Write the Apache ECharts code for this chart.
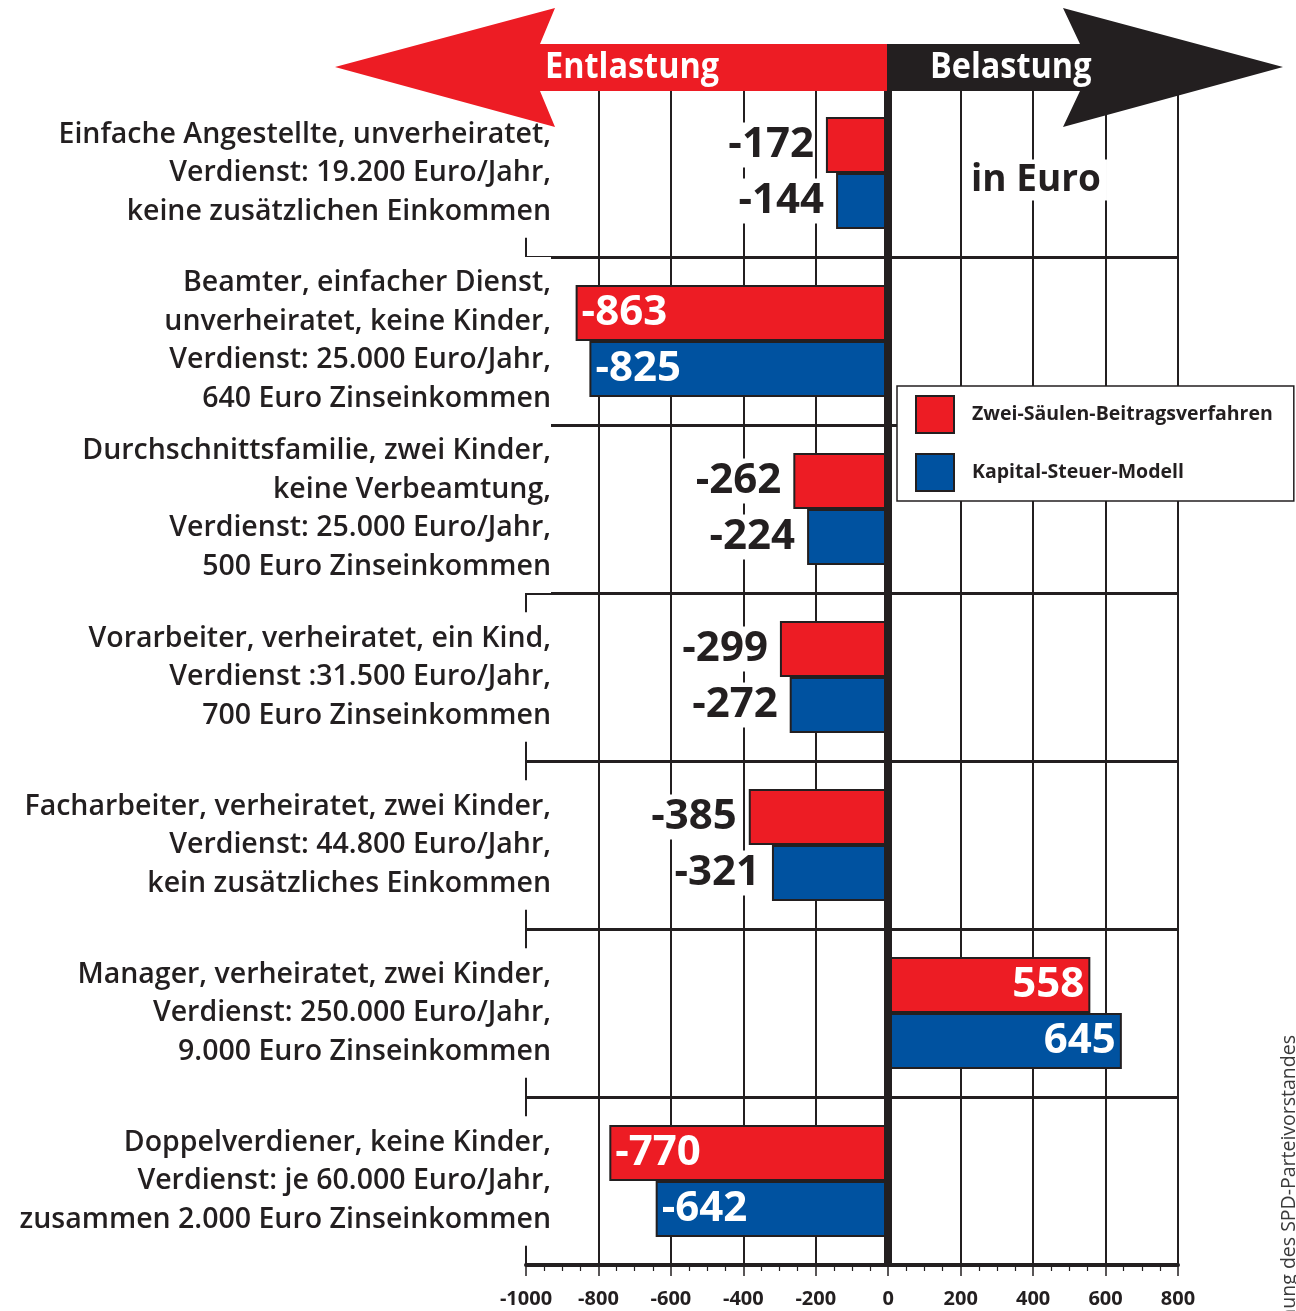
<!DOCTYPE html>
<html><head><meta charset="utf-8">
<script src="https://cdn.jsdelivr.net/npm/echarts@6/dist/echarts.min.js"></script>
<style>html,body{margin:0;padding:0;background:#fff}#c{width:1296px;height:1311px}</style>
</head><body><div id="c"></div>
<script>
var categories = [
  "Einfache Angestellte, unverheiratet,\nVerdienst: 19.200 Euro/Jahr,\nkeine zusätzlichen Einkommen",
  "Beamter, einfacher Dienst,\nunverheiratet, keine Kinder,\nVerdienst: 25.000 Euro/Jahr,\n640 Euro Zinseinkommen",
  "Durchschnittsfamilie, zwei Kinder,\nkeine Verbeamtung,\nVerdienst: 25.000 Euro/Jahr,\n500 Euro Zinseinkommen",
  "Vorarbeiter, verheiratet, ein Kind,\nVerdienst :31.500 Euro/Jahr,\n700 Euro Zinseinkommen",
  "Facharbeiter, verheiratet, zwei Kinder,\nVerdienst: 44.800 Euro/Jahr,\nkein zusätzliches Einkommen",
  "Manager, verheiratet, zwei Kinder,\nVerdienst: 250.000 Euro/Jahr,\n9.000 Euro Zinseinkommen",
  "Doppelverdiener, keine Kinder,\nVerdienst: je 60.000 Euro/Jahr,\nzusammen 2.000 Euro Zinseinkommen"
];
var seriesNames = ["Zwei-Säulen-Beitragsverfahren", "Kapital-Steuer-Modell"];
var zweiSaeulen = [-172, -863, -262, -299, -385, 558, -770];
var kapitalSteuer = [-144, -825, -224, -272, -321, 645, -642];
var xMin = -1000, xMax = 800, xStep = 200;

var RED = '#ed1c24', BLUE = '#0052a0', DARK = '#231f20';
var VFONT = '"Open Sans", sans-serif';

function items(vals) {
  return vals.map(function (v) {
    var big = Math.abs(v) > 500;
    var lbl;
    if (big) {
      lbl = { show: true, position: v < 0 ? 'insideLeft' : 'insideRight', distance: 6,
              color: '#fff', fontSize: 42, fontWeight: 'bold', fontFamily: VFONT };
    } else {
      lbl = { show: true, position: 'left', distance: 11, color: DARK,
              fontSize: 42, fontWeight: 'bold', fontFamily: VFONT,
              backgroundColor: '#fff', padding: [3, 1, 0, 1] };
    }
    return { value: v, label: lbl };
  });
}

var chart = echarts.init(document.getElementById('c'));
chart.setOption({
  animation: false,
  backgroundColor: '#fff',
  grid: { left: 526, right: 118, top: 89, bottom: 46, containLabel: false },
  legend: {
    orient: 'vertical', left: 897, top: 386, z: 10,
    padding: [9, 21, 9, 18], itemGap: 19, itemWidth: 38, itemHeight: 37,
    backgroundColor: '#fff', borderColor: DARK, borderWidth: 1.5,
    icon: 'rect',
    textStyle: { fontFamily: VFONT, fontWeight: 'bold', fontSize: 19.5, color: DARK, padding: [0, 0, 0, 13] },
    data: seriesNames
  },
  xAxis: {
    type: 'value', min: xMin, max: xMax, interval: xStep,
    axisLine: { show: true, onZero: false, lineStyle: { color: DARK, width: 4 } },
    axisTick: { show: true, length: 11, lineStyle: { color: DARK, width: 1.5 } },
    minorTick: { show: true, splitNumber: 4, length: 6, lineStyle: { color: DARK, width: 1.2 } },
    splitLine: { show: true, lineStyle: { color: DARK, width: 2 } },
    axisLabel: { margin: 24, color: DARK, fontFamily: VFONT, fontWeight: 'bold', fontSize: 20,
                 formatter: function (v) { return String(v); } }
  },
  yAxis: {
    type: 'category', inverse: true, data: categories, z: 5,
    axisLine: { show: false }, axisTick: { show: false },
    splitLine: { show: true, lineStyle: { color: DARK, width: 3 } },
    axisLabel: {
      margin: -25, align: 'right', color: DARK, fontFamily: VFONT, fontSize: 28.5, fontWeight: 600,
      lineHeight: 38.5, backgroundColor: '#fff', padding: [2, 0, 12, 6]
    }
  },
  series: [
    { name: seriesNames[0], type: 'bar', data: items(zweiSaeulen), barWidth: 56, barGap: '0%',
      itemStyle: { color: RED, borderColor: DARK, borderWidth: 2 },
      markLine: { silent: true, symbol: 'none', label: { show: false }, z: 8,
        lineStyle: { color: DARK, width: 8, type: 'solid' }, data: [{ xAxis: 0 }] } },
    { name: seriesNames[1], type: 'bar', data: items(kapitalSteuer), barWidth: 56, barGap: '0%',
      itemStyle: { color: BLUE, borderColor: DARK, borderWidth: 2 } }
  ],
  graphic: [
    { type: 'polygon', z: 100, shape: { points: [[540, 44], [555, 8], [335, 67], [555, 127], [540, 91], [888, 91], [888, 44]] },
      style: { fill: RED } },
    { type: 'polygon', z: 100, shape: { points: [[887, 44], [1080, 44], [1063, 8], [1283, 67], [1063, 127], [1080, 91], [887, 91]] },
      style: { fill: DARK } },
    { type: 'text', z: 101, x: 545, y: 68, scaleX: 0.9,
      style: { text: 'Entlastung', fill: '#fff', font: 'bold 36px "Open Sans", sans-serif', verticalAlign: 'middle' } },
    { type: 'text', z: 101, x: 930, y: 68, scaleX: 0.9,
      style: { text: 'Belastung', fill: '#fff', font: 'bold 36px "Open Sans", sans-serif', verticalAlign: 'middle' } },
    { type: 'text', z: 101, x: 1036, y: 180,
      style: { text: 'in Euro', fill: DARK, font: 'bold 37px "Open Sans", sans-serif',
               align: 'center', verticalAlign: 'middle',
               backgroundColor: '#fff', padding: [2, 6, 2, 6] } },
    { type: 'text', z: 101, x: 1289, y: 1035, rotation: Math.PI / 2,
      style: { text: 'Berechnung des SPD-Parteivorstandes', fill: '#3a3a3a',
               font: '19.5px "Open Sans", sans-serif', align: 'right', verticalAlign: 'middle' } }
  ]
});
</script></body></html>
